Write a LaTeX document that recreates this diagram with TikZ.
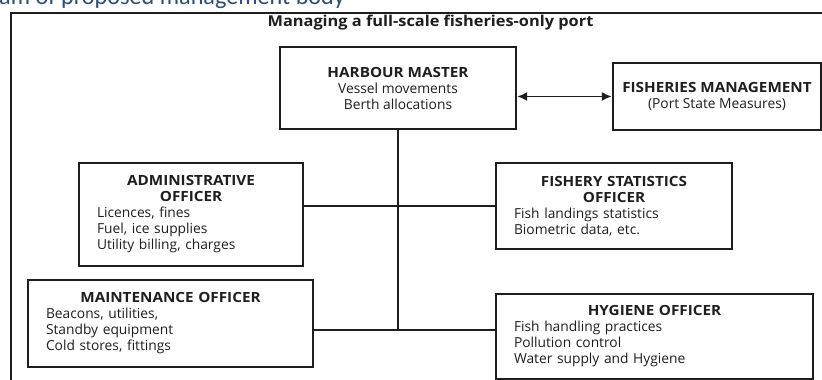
\documentclass[tikz,border=0pt]{standalone}
\usepackage{fontspec}
\setmainfont{Open Sans}
\newfontfamily\hdfont[FakeStretch=1.09]{Open Sans}
\newfontfamily\capfont{Carlito}
\usetikzlibrary{arrows.meta}
\definecolor{capblue}{RGB}{43,76,126}
\definecolor{ink}{RGB}{30,30,30}
\newcommand{\hdg}[1]{{\hdfont\bfseries\fontsize{14}{16}\selectfont #1}}
\begin{document}
\begin{tikzpicture}[x=1pt,y=-1pt,
  box/.style={draw=ink, line width=2.3pt, rectangle, inner sep=0pt, text=ink,
    font=\fontsize{13.8}{16}\selectfont},
  conn/.style={draw=ink, line width=1.1pt}]
\useasboundingbox (0,0) rectangle (822,380);
\clip (0,0) rectangle (822,380);
% caption fragment
\node[anchor=base west, inner sep=0pt, text=capblue, font=\capfont\fontsize{24.2}{24}\selectfont] (cap) at (-1,5) {am of proposed management body};
% outer frame
\draw[line width=2.2pt, draw=ink] (11,420) -- (11,13) -- (840,13);
\node[inner sep=0pt, text=ink, font=\hdfont\bfseries\fontsize{15}{18}\selectfont] (title) at (430.5,22.5) {Managing a full-scale fisheries-only port};
% boxes
\node[box, minimum width=236, minimum height=82, align=center] (hm) at (398,88)
  {\hdg{HARBOUR MASTER}\\Vessel movements\\Berth allocations};
\node[box, minimum width=208, minimum height=67, align=center] (fm) at (717,96.5)
  {\hdg{FISHERIES MANAGEMENT}\\(Port State Measures)};
\node[box, minimum width=224, minimum height=103, text width=188] (adm) at (191,214.5)
  {{\centering\hdg{ADMINISTRATIVE}\\\hdg{OFFICER}\par}Licences, fines\\Fuel, ice supplies\\Utility billing, charges};
\node[box, minimum width=236, minimum height=86, text width=200] (fs) at (614,206)
  {{\centering\hdg{FISHERY STATISTICS}\\\hdg{OFFICER}\par}Fish landings statistics\\Biometric data, etc.};
\node[box, minimum width=285, minimum height=87, text width=249] (mt) at (170.5,323.5)
  {{\centering\hdg{MAINTENANCE OFFICER}\par}Beacons, utilities,\\Standby equipment\\Cold stores, fittings};
\node[box, minimum width=317, minimum height=85, text width=281] (hy) at (654.5,336.5)
  {{\centering\hdg{HYGIENE OFFICER}\par}Fish handling practices\\Pollution control\\Water supply and Hygiene};
% connectors
\coordinate (j2) at (398,330);
\draw[conn, line width=1.8pt, {Latex[length=10pt,width=9pt]}-{Latex[length=10pt,width=9pt]}] (fm.west -| hm.east) -- (fm.west);
\draw[conn] (hm.south) -- (j2);
\draw[conn] (fs.west -| adm.east) -- (fs.west);
\draw[conn] (j2 -| mt.east) -- (j2 -| hy.west);
\end{tikzpicture}
\end{document}
